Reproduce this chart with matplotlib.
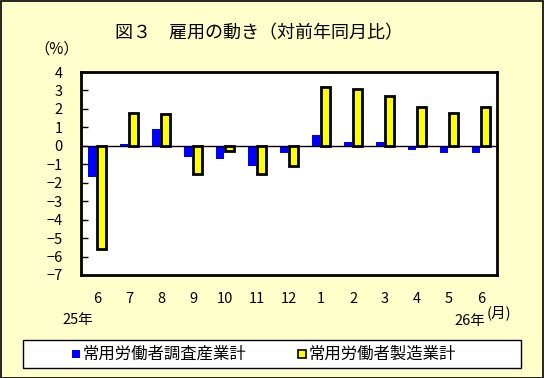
import numpy as np
from matplotlib import pyplot as plt
from matplotlib.patches import Rectangle

plt.rcParams['font.family'] = ['Noto Sans CJK JP', 'DejaVu Sans']

months = ['6', '7', '8', '9', '10', '11', '12', '1', '2', '3', '4', '5', '6']
all_industries = [-1.7, 0.1, 0.9, -0.6, -0.7, -1.1, -0.4, 0.6, 0.2, 0.2, -0.2, -0.4, -0.4]
manufacturing = [-5.6, 1.8, 1.7, -1.5, -0.3, -1.5, -1.1, 3.2, 3.1, 2.7, 2.1, 1.8, 2.1]
series_names = ['常用労働者調査産業計', '常用労働者製造業計']

W, H = 544, 378
fig = plt.figure(figsize=(W / 100, H / 100), dpi=100)
fig.patch.set_facecolor('#FFFFCC')
fig.patches.append(Rectangle((0.5 / W, 0.5 / H), 1 - 1.5 / W, 1 - 1.5 / H, transform=fig.transFigure,
                             fill=False, edgecolor='black', linewidth=1.2))

# plot area in pixels: left 81, right 497, top 72, bottom 275
ax = fig.add_axes([81 / W, 1 - 275 / H, (497 - 81) / W, (275 - 72) / H])
ax.set_facecolor('white')
for s in ax.spines.values():
    s.set_linewidth(2)

x = np.arange(len(months))
bw = 0.27
ax.bar(x - bw / 2 - 0.02, all_industries, width=bw, color='#0000FF', edgecolor='none', zorder=2)
ax.bar(x + bw / 2, manufacturing, width=bw, color='#FFFF00', edgecolor='black', linewidth=2, zorder=3)
ax.axhline(0, color='black', linewidth=1, zorder=4)

ax.set_xlim(-0.5, len(months) - 0.5)
ax.set_ylim(-7, 4)
ax.set_yticks(range(-7, 5))
ax.set_yticklabels([str(v).replace('-', '−') for v in range(-7, 5)], fontsize=10.5)
ax.tick_params(axis='y', direction='in', length=5, width=1, pad=13)
ax.set_xticks(x)
ax.set_xticklabels(months, fontsize=10.5)
ax.tick_params(axis='x', length=0, pad=12)

fig.text(259 / W, 1 - 33 / H, '図３　雇用の動き（対前年同月比）', ha='center', va='center', fontsize=13)
fig.text(57 / W, 1 - 49 / H, '（%）', ha='center', va='center', fontsize=11)
fig.text(78 / W, 1 - 320 / H, '25年', ha='center', va='center', fontsize=10.5)
fig.text(485 / W, 1 - 321 / H, '26年', ha='right', va='center', fontsize=10.5)
fig.text(487 / W, 1 - 313 / H, '(月)', ha='left', va='center', fontsize=10.5)

# legend box
fig.patches.append(Rectangle((23 / W, 1 - 368 / H), (521 - 23) / W, (368 - 340) / H, transform=fig.transFigure,
                             facecolor='white', edgecolor='black', linewidth=1))
fig.patches.append(Rectangle((72 / W, 1 - 358 / H), 8 / W, 8 / H, transform=fig.transFigure,
                             facecolor='#0000FF', edgecolor='none'))
fig.text(83 / W, 1 - 354 / H, series_names[0], ha='left', va='center', fontsize=11.8)
fig.patches.append(Rectangle((298 / W, 1 - 358 / H), 8 / W, 8 / H, transform=fig.transFigure,
                             facecolor='#FFFF00', edgecolor='black', linewidth=1.2))
fig.text(309 / W, 1 - 354 / H, series_names[1], ha='left', va='center', fontsize=11.8)

fig.savefig('out.png', dpi=100, facecolor=fig.get_facecolor())
